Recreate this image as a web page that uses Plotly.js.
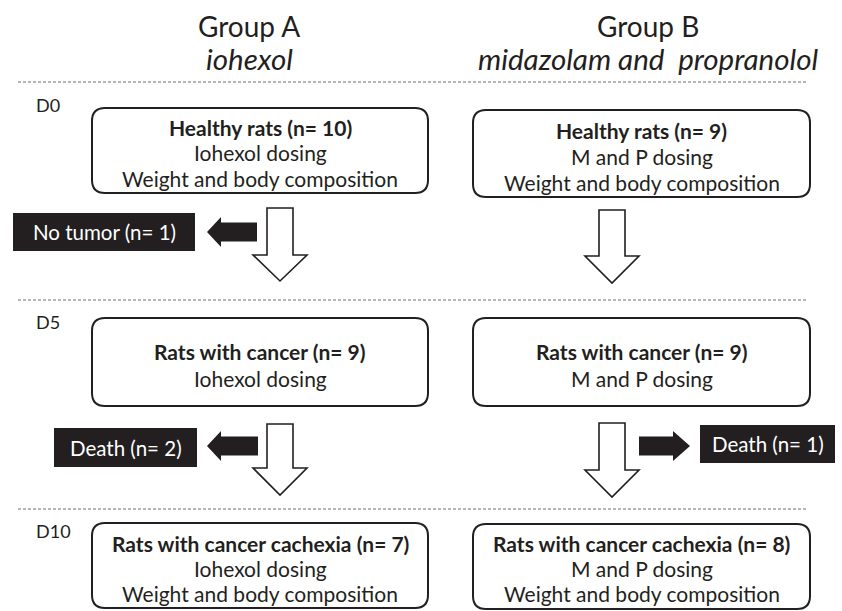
<!DOCTYPE html>
<html>
<head>
<meta charset="utf-8">
<script src="https://cdn.plot.ly/plotly-3.0.1.min.js"></script>
<style>html,body{margin:0;padding:0;background:#fff;}#chart{width:842px;height:611px;}</style>
</head>
<body>
<div id="chart"></div>
<script>
// ---------- data ----------
const groups = ["Group A", "Group B"];
const treatments = ["iohexol", "midazolam and  propranolol"];
const days = ["D0", "D5", "D10"];
const stageNames = ["Healthy rats", "Rats with cancer", "Rats with cancer cachexia"];
const countsA = [10, 9, 7];
const countsB = [9, 9, 8];
const dosing = ["Iohexol dosing", "M and P dosing"];
const measureLabel = "Weight and body composition";
const stageHasMeasure = [true, false, true];
const exclusionLabels = ["No tumor", "Death", "Death"];
const exclusionCounts = [1, 2, 1];

// ---------- layout constants (px, y downwards) ----------
const W = 842, H = 611;
const FONT = "Lato, 'Open Sans', sans-serif";
const INK = "#231f20";
const colCenterTitle = [249, 648];
const boxX = [[92, 428], [473, 810]];
const boxY = [[[108, 193], [318, 406], [523, 608]],
              [[110, 197], [318, 406], [524, 609]]];
const lineY = [[[127, 152, 178], [351, 378], [543, 568, 593]],
               [[130, 156, 182], [351, 378], [543, 568, 593]]];
const dashY = [82, 300, 509];
const dayLabelY = [105, 322, 531];
const downArrows = [ // [cx, top, headY, tip]
  [[280, 208, 255, 281], [280, 424, 468, 495]],
  [[612, 210, 256, 283], [612, 423, 470, 497]]
];
const exclBox = [[13, 195, 213, 251], [54, 197, 428, 467], [700, 835, 425, 463]];
const sideArrows = [ // [tipX, y, headBaseX, tailX]
  [207, 232, 221, 257], [207, 446, 221, 258], [690, 446, 673, 639]
];

const shapes = [];
const annotations = [];

function rrect(x0, y0, x1, y1, r) {
  return `M${x0 + r},${y0} H${x1 - r} Q${x1},${y0} ${x1},${y0 + r} V${y1 - r} Q${x1},${y1} ${x1 - r},${y1} H${x0 + r} Q${x0},${y1} ${x0},${y1 - r} V${y0 + r} Q${x0},${y0} ${x0 + r},${y0} Z`;
}
function txt(x, y, text, size, opts) {
  annotations.push(Object.assign({
    x: x, y: y, xref: "x", yref: "y", text: text, showarrow: false,
    xanchor: "center", yanchor: "middle",
    font: {family: FONT, size: size, color: INK}
  }, opts || {}));
}

// dashed separators
dashY.forEach(y => shapes.push({type: "line", x0: 18, x1: 808, y0: y, y1: y,
  line: {color: "#6f6f6f", width: 1, dash: "3px,2px"}}));

// group titles
groups.forEach((g, i) => {
  txt(colCenterTitle[i], 26, g, 28);
  txt(colCenterTitle[i], 58, "<i>" + treatments[i] + "</i>", 29.5);
});

// day labels
days.forEach((d, i) => txt(34, dayLabelY[i], d, 18, {xanchor: "left"}));

// stage boxes
const counts = [countsA, countsB];
for (let g = 0; g < 2; g++) {
  for (let s = 0; s < 3; s++) {
    const [x0, x1] = boxX[g];
    const [y0, y1] = boxY[g][s];
    shapes.push({type: "path", path: rrect(x0, y0, x1, y1, 13),
      line: {color: INK, width: 2}, fillcolor: "rgba(0,0,0,0)"});
    const cx = (x0 + x1) / 2;
    const lines = ["<b>" + stageNames[s] + " (n= " + counts[g][s] + ")</b>", dosing[g]];
    if (stageHasMeasure[s]) lines.push(measureLabel);
    lines.forEach((t, k) => txt(cx, lineY[g][s][k], t, k === 0 ? 21 : 21));
  }
}

// downward hollow arrows
const shaftHalf = 13, headHalf = 27;
downArrows.forEach(col => col.forEach(([cx, top, hy, tip]) => {
  shapes.push({type: "path",
    path: `M${cx - shaftHalf},${top} H${cx + shaftHalf} V${hy} H${cx + headHalf} L${cx},${tip} L${cx - headHalf},${hy} H${cx - shaftHalf} Z`,
    line: {color: INK, width: 1.6}, fillcolor: "#ffffff"});
}));

// exclusion boxes and side arrows
exclusionLabels.forEach((lab, i) => {
  const [x0, x1, y0, y1] = exclBox[i];
  shapes.push({type: "rect", x0: x0, x1: x1, y0: y0, y1: y1,
    line: {width: 0}, fillcolor: INK});
  txt((x0 + x1) / 2, (y0 + y1) / 2, lab + " (n= " + exclusionCounts[i] + ")", 20.5,
    {font: {family: FONT, size: 20.5, color: "#ffffff"}});
  const [tx, y, hb, tail] = sideArrows[i];
  shapes.push({type: "path",
    path: `M${tx},${y} L${hb},${y - 15} V${y - 9.5} H${tail} V${y + 9.5} H${hb} V${y + 15} Z`,
    line: {width: 0}, fillcolor: INK});
});

const layout = {
  width: W, height: H,
  margin: {l: 0, r: 0, t: 0, b: 0},
  paper_bgcolor: "#ffffff", plot_bgcolor: "#ffffff",
  showlegend: false,
  xaxis: {range: [0, W], visible: false, fixedrange: true},
  yaxis: {range: [H, 0], visible: false, fixedrange: true},
  shapes: shapes,
  annotations: annotations
};
Plotly.newPlot("chart", [], layout, {displayModeBar: false, staticPlot: true});
</script>
</body>
</html>
